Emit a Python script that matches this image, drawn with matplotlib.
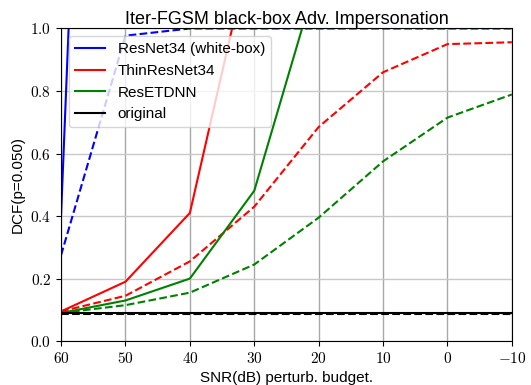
import matplotlib
matplotlib.use("Agg")
import matplotlib.pyplot as plt
from matplotlib.ticker import FuncFormatter

snr = [60, 50, 40, 30, 20, 10, 0, -10]

resnet34_solid = [0.403, 5.5, 10.0, 10.0, 10.0, 10.0, 10.0, 10.0]
resnet34_dashed = [0.275, 0.977, 1.0, 1.0, 1.0, 1.0, 1.0, 1.0]
thin_solid = [0.095, 0.19, 0.41, 1.31, 2.0, 2.0, 2.0, 2.0]
thin_dashed = [0.095, 0.145, 0.255, 0.43, 0.685, 0.86, 0.95, 0.956]
etdnn_solid = [0.09, 0.13, 0.20, 0.481, 1.18, 1.5, 1.5, 1.5]
etdnn_dashed = [0.09, 0.115, 0.155, 0.245, 0.395, 0.575, 0.715, 0.789]
orig_solid = [0.089] * 8
orig_dashed = [0.086] * 8

plt.rcParams['font.family'] = ['Liberation Sans', 'DejaVu Sans']
plt.rcParams['mathtext.fontset'] = 'cm'

fig = plt.figure(figsize=(5.31, 3.85), dpi=100)
ax = fig.add_axes([0.115, 0.114, 0.849, 0.812])

ax.plot(snr, resnet34_solid, color='blue', lw=1.5, label='ResNet34 (white-box)')
ax.plot(snr, resnet34_dashed, color='blue', lw=1.5, ls='--')
ax.plot(snr, thin_solid, color='red', lw=1.5, label='ThinResNet34')
ax.plot(snr, thin_dashed, color='red', lw=1.5, ls='--')
ax.plot(snr, etdnn_solid, color='green', lw=1.5, label='ResETDNN')
ax.plot(snr, etdnn_dashed, color='green', lw=1.5, ls='--')
ax.plot(snr, orig_solid, color='black', lw=1.5, label='original')
ax.plot(snr, orig_dashed, color='black', lw=1.5, ls='--')

ax.set_xlim(60, -10)
ax.set_ylim(0, 1.0)
ax.set_xticks(snr)
ax.set_yticks([0.0, 0.2, 0.4, 0.6, 0.8, 1.0])
ax.xaxis.set_major_formatter(FuncFormatter(lambda v, p: r'$%d$' % v))
ax.yaxis.set_major_formatter(FuncFormatter(lambda v, p: r'$%.1f$' % v))
ax.tick_params(labelsize=11)
ax.xaxis.grid(True, color='#a8a8a8', lw=1.0)
ax.yaxis.grid(True, color='#c8c8c8', lw=1.0)

ax.set_title('Iter-FGSM black-box Adv. Impersonation', fontsize=13, pad=3)
ax.set_xlabel('SNR(dB) perturb. budget.', fontsize=11)
ax.set_ylabel('DCF(p=0.050)', fontsize=11)
ax.legend(loc='upper left', fontsize=11)

fig.savefig('out.png', dpi=100)
